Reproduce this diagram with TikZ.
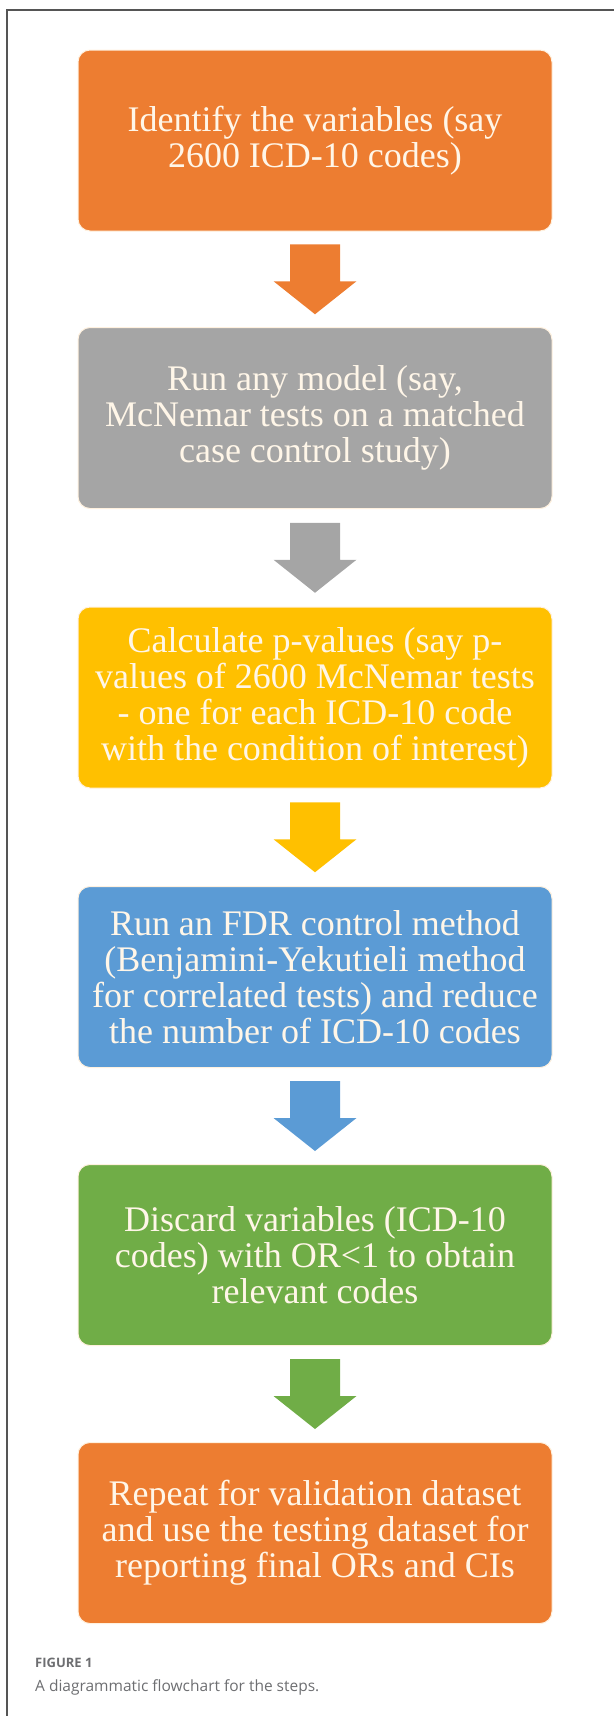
\documentclass[tikz,border=0pt]{standalone}
\usepackage{fontspec}
\setmainfont{Liberation Serif}
\newfontfamily\capfont{Open Sans}
\usetikzlibrary{calc}

\definecolor{cOrange}{HTML}{ED7D31}
\definecolor{cGray}{HTML}{A5A5A5}
\definecolor{cGold}{HTML}{FFC000}
\definecolor{cBlue}{HTML}{5B9BD5}
\definecolor{cGreen}{HTML}{70AD47}
\definecolor{cText}{HTML}{FFF6E8}
\definecolor{cEdge}{HTML}{FFF1DF}
\definecolor{cFrame}{HTML}{555555}
\definecolor{cCap}{HTML}{6D6E71}

\begin{document}
\begin{tikzpicture}[
	x=1pt, y=-1pt,
	box/.style = {rectangle, rounded corners=12, fill=#1, draw=cEdge, line width=1,
		minimum width=474, minimum height=181, align=center, text=cText,
		font=\fontsize{36}{36}\selectfont},
	captext/.style = {anchor=base west, inner sep=0, text=cCap}
	]
	\useasboundingbox (0,0) rectangle (614,1716);
	
	%Frame
	\draw[cFrame, line width=1.2]	(7,1716) -- (7,10) -- (614,10);
	
	%Nodes
	\node[box=cOrange]	(ident)	at	(315, 140.5)	{Identify the variables (say\\2600 ICD-10 codes)};
	\node[box=cGray]	(model)	at	(315, 418)		{Run any model (say,\\McNemar tests on a matched\\case control study)};
	\node[box=cGold]	(pval)	at	(315, 697.5)	{Calculate p-values (say p-\\values of 2600 McNemar tests\\- one for each ICD-10 code\\with the condition of interest)};
	\node[box=cBlue]	(fdr)	at	(315, 977)		{Run an FDR control method\\(Benjamini-Yekutieli method\\for correlated tests) and reduce\\the number of ICD-10 codes};
	\node[box=cGreen]	(disc)	at	(315, 1255)		{Discard variables (ICD-10\\codes) with OR<1 to obtain\\relevant codes};
	\node[box=cOrange]	(rep)	at	(315, 1533)		{Repeat for validation dataset\\and use the testing dataset for\\reporting final ORs and CIs};
	
	%Arrows
	\foreach \a/\b/\c in {ident/model/cOrange, model/pval/cGray, pval/fdr/cGold, fdr/disc/cBlue, disc/rep/cGreen}
		\fill[\c]	($(\a.south)!0.5!(\b.north)$) ++(-25,-35) -- ++(50,0) -- ++(0,37) -- ++(16.5,0)
					-- ++(-41.5,33) -- ++(-41.5,-33) -- ++(16.5,0) -- cycle;
	
	%Caption
	\node[captext, font=\capfont\bfseries\fontsize{13}{15}\selectfont]	(fig)	at	(35, 1667)	{FIGURE 1};
	\node[captext, font=\capfont\fontsize{15.5}{18}\selectfont]	(txt)	at	(35, 1691)	{A diagrammatic flowchart for the steps.};
	
\end{tikzpicture}
\end{document}
